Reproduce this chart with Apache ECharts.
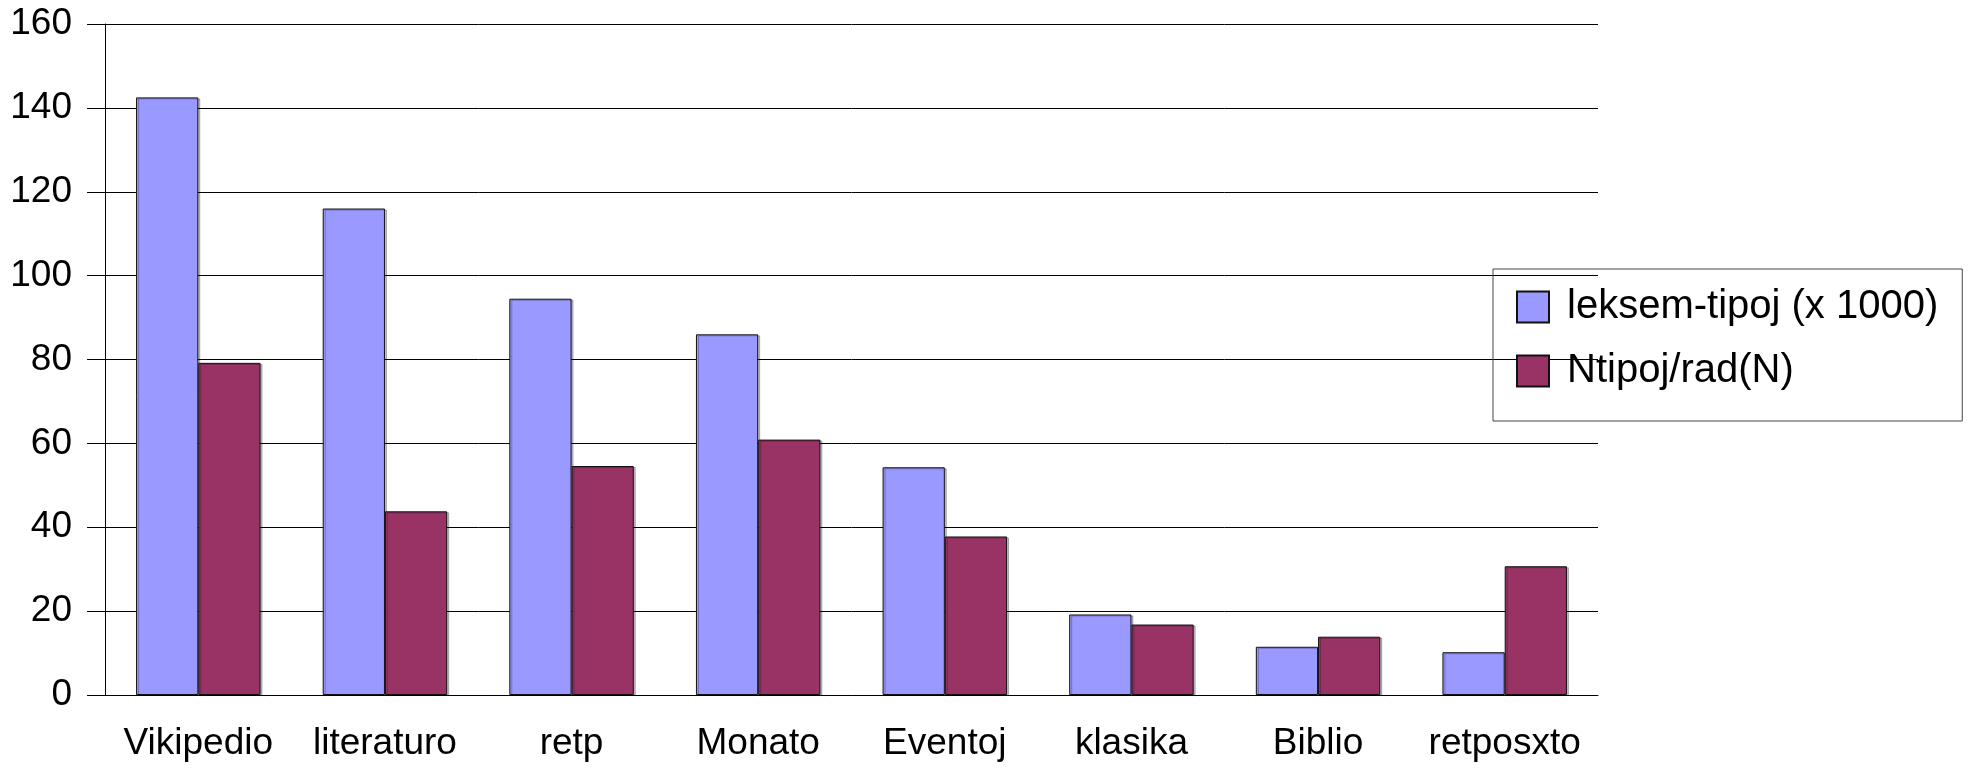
<!DOCTYPE html>
<html>
<head>
<meta charset="utf-8">
<script src="https://cdn.jsdelivr.net/npm/echarts@6/dist/echarts.min.js"></script>
<style>
  html, body { margin: 0; padding: 0; background: #fff; }
  #main { width: 1971px; height: 768px; }
</style>
</head>
<body>
<div id="main"></div>
<script>
// data
const categories = ["Vikipedio", "literaturo", "retp", "Monato", "Eventoj", "klasika", "Biblio", "retposxto"];
const leksemTipoj = [142.5, 116, 94.5, 86, 54.3, 19.2, 11.5, 10.2];
const ntipojRad = [79.2, 43.8, 54.6, 60.9, 37.8, 16.8, 13.9, 30.7];
const seriesNames = ["leksem-tipoj (x 1000)", "Ntipoj/rad(N)"];

const font = '"Liberation Sans", Arial, sans-serif';

let myChart = echarts.init(document.getElementById("main"));

let barStyle = (color) => ({
  color: color,
  borderColor: "#111",
  borderWidth: 1,
  shadowColor: "rgba(0,0,0,0.25)",
  shadowOffsetX: 2,
  shadowOffsetY: 1,
  shadowBlur: 0
});

let option = {
  animation: false,
  backgroundColor: "#fff",
  grid: { left: 105, top: 24, right: 373, bottom: 73, containLabel: false },
  legend: {
    orient: "vertical",
    left: 1493,
    top: 269,
    padding: [18, 24, 30, 23],
    itemWidth: 32,
    itemHeight: 31,
    itemGap: 24,
    borderColor: "#444",
    borderWidth: 1,
    icon: "rect",
    textStyle: { fontFamily: font, fontSize: 40, color: "#000", lineHeight: 31, padding: [0, 0, 0, 13] },
    data: seriesNames
  },
  xAxis: {
    type: "category",
    data: categories,
    axisLine: { lineStyle: { color: "#000", width: 1 } },
    axisTick: { alignWithLabel: true, length: 17, lineStyle: { color: "#000" } },
    axisLabel: { interval: 0, fontFamily: font, fontSize: 37, color: "#000", margin: 30 }
  },
  yAxis: {
    type: "value",
    min: 0,
    max: 160,
    interval: 20,
    axisLine: { show: true, lineStyle: { color: "#000", width: 1 } },
    axisTick: { show: true, length: 18, lineStyle: { color: "#000" } },
    axisLabel: { fontFamily: font, fontSize: 37, color: "#000", margin: 33 },
    splitLine: { lineStyle: { color: "#000", width: 1 } }
  },
  series: [
    {
      name: seriesNames[0],
      type: "bar",
      data: leksemTipoj,
      barGap: "0%",
      barCategoryGap: "33.3%",
      itemStyle: barStyle("#9999ff")
    },
    {
      name: seriesNames[1],
      type: "bar",
      data: ntipojRad,
      barGap: "0%",
      barCategoryGap: "33.3%",
      itemStyle: barStyle("#993366")
    }
  ]
};

myChart.setOption(option);
</script>
</body>
</html>
